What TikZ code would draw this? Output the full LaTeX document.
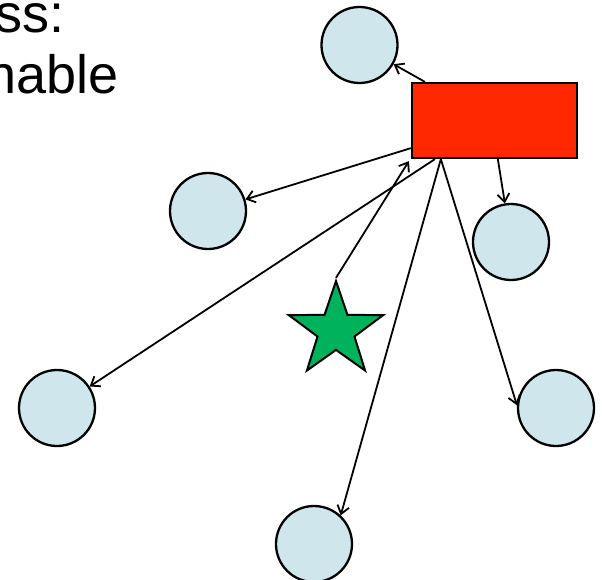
\documentclass[tikz,border=0pt]{standalone}
\usepackage{fontspec}
\setmainfont{Liberation Sans}
\usetikzlibrary{arrows.meta,shapes.geometric}
\definecolor{circfill}{RGB}{206,230,236}
\definecolor{hubred}{RGB}{255,40,0}
\definecolor{stargreen}{RGB}{0,178,92}
\tikzset{
  peer/.style={circle,draw=black,line width=2.3pt,fill=circfill,minimum size=76pt,inner sep=0pt},
  hubbox/.style={rectangle,draw=black,line width=2.3pt,fill=hubred,minimum width=165pt,minimum height=75pt,inner sep=0pt},
  starshape/.style={star,star points=5,star point ratio=2.55,draw=black,line width=2pt,fill=stargreen,minimum size=99pt,inner sep=0pt},
  link/.style={line width=1.8pt,-{Straight Barb[length=8pt,width=12pt,line width=1.8pt]}},
  slidetext/.style={font=\fontsize{54pt}{61pt}\selectfont,inner sep=0pt,anchor=base east}
}
\begin{document}
\begin{tikzpicture}[x=1pt,y=1pt]
\useasboundingbox (0,0) rectangle (602,-580);
\clip (0,0) rectangle (602,-580);
\node[slidetext] (t1) at (65,-33) {ss:};
\node[slidetext] (t2) at (119,-94) {nable};
\node[hubbox] (hub) at (494.5,-120.5) {};
\node[peer] (c1) at (359.5,-45) {};
\node[peer] (c2) at (208,-211) {};
\node[peer] (c3) at (511,-242) {};
\node[peer] (c4) at (57,-408) {};
\node[peer] (c5) at (556,-408) {};
\node[peer] (c6) at (314,-544) {};
\node[starshape] (st) at (336,-330.5) {};
\draw[link] ([xshift=14pt]hub.north west) -- (c1);
\draw[link] ([yshift=11pt]hub.south west) -- (c2);
\draw[link] ([xshift=87pt]hub.south west) -- (c3);
\draw[link] ([xshift=24pt]hub.south west) -- (c4);
\draw[link] ([xshift=30pt]hub.south west) -- (c5.176);
\draw[link] ([xshift=30pt]hub.south west) -- (c6.47);
\draw[link] (st.outer point 1) -- ([xshift=-2pt,yshift=-2pt]hub.south west);
\end{tikzpicture}
\end{document}
